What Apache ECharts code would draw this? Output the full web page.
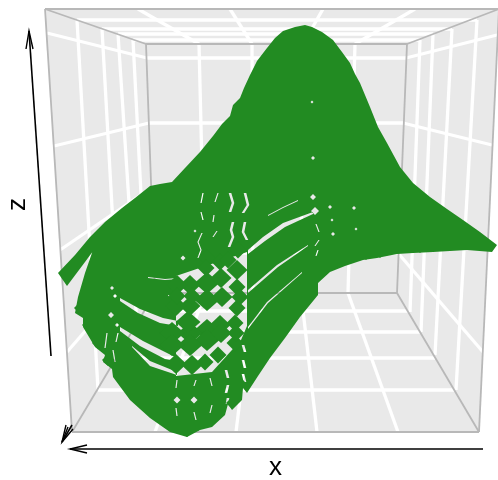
<!DOCTYPE html>
<html><head><meta charset="utf-8">
<style>html,body{margin:0;padding:0;background:#fff}#c{width:498px;height:480px}</style>
<script src="https://cdn.jsdelivr.net/npm/echarts@6/dist/echarts.min.js"></script>
</head><body><div id="c"></div>
<script>
const wallOutline = [[45,9],[499,9],[479,432],[72,432]];
const boxEdges = [
  [[45,9],[499,9]],[[45,9],[72,432]],[[499,9],[479,432]],[[72,432],[479,432]],
  [[45,9],[146,44]],[[499,9],[407,44]],[[72,432],[155,293]],[[479,432],[397,293]],
  [[146,44],[407,44]],[[146,44],[155,293]],[[407,44],[397,293]],[[155,293],[397,293]]
];
const backVerticals = [
  [[199,44],[205,293]],[[252,44],[253,293]],[[303,44],[301,293]],[[355,44],[348,293]]
];
const backHorizontals = [
  [[147,58],[406,58]],[[149,123],[403,123]],[[151,188],[400,188]],[[153,253],[398,253]]
];
const ceilingDepth = [
  [[138,9],[199,44]],[[230,9],[252,44]],[[323,9],[303,44]],[[415,9],[355,44]]
];
const ceilingCross = [
  [[77,20],[477,20]],[[102,29],[452,29]],[[118,34],[433,34]],[[133,40],[420,40]]
];
const floorDepth = [
  [[155,432],[205,293]],[[236,432],[253,293]],[[317,432],[301,293]],[[398,432],[348,293]]
];
const floorCross = [
  [[98,390],[454,390]],[[117,358],[435,358]],[[132,332],[420,332]],[[145,311],[408,311]]
];
const leftWallDepth = [
  [[47,33],[147,58]],[[54,146],[149,123]],[[60,250],[151,188]],[[67,352],[153,253]]
];
const rightWallDepth = [
  [[497,35],[406,58]],[[492,145],[403,123]],[[487,250],[400,188]],[[483,352],[398,253]]
];
const leftWallUp = [
  [[77,20],[98,390]],[[102,29],[120,350]],[[118,34],[137,325]],[[133,40],[147,310]]
];
const rightWallUp = [
  [[477,20],[456,390]],[[452,29],[435,355]],[[433,34],[421,332]],[[420,40],[410,312]]
];

const surfaceOutline = [
  [58,273],[75,255],[90,237],[105,222],[122,208],[135,198],[150,186],[160,184],[172,182],
  [185,168],[200,152],[213,136],[222,124],[230,116],[233,105],[240,98],[244,88],[250,75],[257,61],[267,48],
  [275,38],[283,31],[295,27],[305,25],[312,27],[322,32],[333,40],[342,52],[350,63],[355,74],
  [360,83],[370,107],[378,127],[387,143],[400,167],[413,183],[430,197],[447,209],[463,220],
  [480,232],[497,245],[492,252],[467,250],[433,252],[413,253],[397,254],[377,258],[363,260],
  [345,266],[330,272],[318,283],[318,295],[300,317],[285,338],[270,358],[258,376],[247,393],
  [243,388],[242,400],[232,410],[228,404],[225,415],[212,427],[200,430],[187,437],[170,432],
  [150,418],[130,400],[113,377],[112,369],[103,362],[105,355],[95,347],[83,327],[83,318],
  [75,313],[78,297],[85,273],[93,250],[99,243],[85,262],[67,286]
];
const crescentGaps = [
  [[120,298],[140,309],[163,318],[178,321],[178,326],[160,323],[138,313],[120,301]],
  [[120,327],[143,341],[173,356],[177,357],[177,361],[165,359],[140,346],[120,331]],
  [[132,346],[150,361],[177,372],[177,375],[150,366],[132,347]],
  [[248,250],[263,237],[283,223],[313,212],[313,214],[285,227],[265,241],[248,254]],
  [[248,290],[277,265],[308,245],[308,246],[278,267],[248,293]],
  [[248,327],[267,302],[302,272],[302,273],[268,303],[248,329]],
  [[268,215],[283,207],[298,200],[298,201],[283,208],[268,216]],
  [[148,277],[165,279],[178,278],[178,279],[165,280],[148,278]],
  [[168,295],[178,296],[178,297],[168,296]]
];
const meshGap = [[176,276],[247,252],[247,292],[247,326],[241,340],[212,372],[176,376]];
const fineGaps = [
  [[203,193],[201,203]],[[201,212],[203,220]],[[202,233],[198,242],[201,250],[198,258]],
  [[218,193],[215,202]],[[214,215],[213,222]],[[217,231],[213,237]],
  [[177,380],[176,388]],[[176,408],[177,416]],[[176,422],[177,430]],
  [[196,380],[194,386]],[[194,412],[196,420]],
  [[210,378],[212,386]],[[212,405],[210,413]],
  [[118,333],[116,342]],[[113,350],[115,362]],[[107,333],[105,348]],
  [[316,224],[319,232]],[[319,240],[315,246]],[[318,250],[316,256]]
];
const wideGaps = [
  [[230,193],[233,203],[230,212]],[[233,222],[231,230],[233,237],[229,247]],
  [[245,193],[248,205],[243,213]],[[245,222],[243,232],[247,240]],
  [[226,370],[228,378]],[[228,385],[226,393]],[[228,398],[227,404]],
  [[243,345],[245,352]],[[243,360],[245,368]],[[243,374],[245,382]]
];
const roundGaps = [
  [177,400,3.5],[194,400,3.5],[313,158,2],[313,197,3],[315,211,4],[330,207,2],[354,208,2],
  [332,220,1.5],[333,234,2],[356,229,1.5],[312,102,1.5],[112,288,2],[115,296,2],
  [111,315,3],[117,325,2],[183,258,2.5],[195,231,1.5]
];
const bigPoints = [
  [207,283],[207,300],[207,330],[190,333],[172,333],[207,340],[190,345],[172,345],[188,322]
];
const midPoints = [
  [221,278],[222,297],[220,325],[190,306],[176,306],[237,270],[221,333],[190,285],[177,285],[176,364],[192,365]
];
const smallPoints = [
  [237,287],[237,308],[235,323],[218,355],[235,343],[205,362],[220,262],[238,250],[207,258],
  [228,260],[206,268],[236,333],[240,297],[192,296],[177,296]
];
const rimPoints = [
  [486,245],[473,241],[460,243],[447,245],[433,245],[420,247],[407,247],[396,248],[380,252],
  [366,254],[187,431],[176,427],[198,425],[208,421],[232,403],[240,383],
  [108,360],[98,343],[88,325],[80,308]
];
const zArrow = [[51,356],[29,31]];
const zHead = [[26,49],[29,31],[33,49]];
const xArrow = [[483,449],[70,449]];
const xHead = [[87,445],[70,449],[87,453]];
const yArrow = [[72,425],[62,442]];
const yHeadA = [[66,425],[62,442],[73,429]];
const yHeadB = [[68,427],[62,442]];
const axisTitles = ['x','z'];

const line = (pts, color, width, z) => ({
  type:'line', data:pts, symbol:'none', silent:true, z, clip:false,
  lineStyle:{color, width, cap:'butt', join:'miter', opacity:1}
});
const signed = r => r.reduce((s,p,i)=>{const q=r[(i+1)%r.length];return s+p[0]*q[1]-q[0]*p[1];},0);
const orient = (r, sign) => (signed(r)*sign>0 ? r : r.slice().reverse());
const strip = (pts, w) => pts.map(p=>[p[0]-w,p[1]]).concat(pts.slice().reverse().map(p=>[p[0]+w,p[1]]));
const diamondRing = ([x,y,r]) => [[x,y-r],[x+r,y],[x,y+r],[x-r,y]];
const holes = crescentGaps.concat([meshGap], fineGaps.map(c=>strip(c,0.6)), wideGaps.map(c=>strip(c,1.3)), roundGaps.map(diamondRing));

const surfaceItem = (params, api) => {
  const toPath = r => 'M' + r.map(p=>api.coord(p).join(' ')).join('L') + 'Z';
  const d = toPath(orient(surfaceOutline,1)) + holes.map(h=>toPath(orient(h,-1))).join('');
  const px = surfaceOutline.map(p=>api.coord(p));
  const xs = px.map(p=>p[0]), ys = px.map(p=>p[1]);
  const x0=Math.min(...xs), y0=Math.min(...ys);
  return {type:'path', shape:{pathData:d, x:x0, y:y0, width:Math.max(...xs)-x0, height:Math.max(...ys)-y0, layout:'cover'},
    style:{fill:'#228b22'}};
};
const wallItem = (params, api) => ({
  type:'polygon', shape:{points:wallOutline.map(p=>api.coord(p))}, style:{fill:'#e9e9e9'}
});
const dots = (pts,size) => ({type:'scatter',data:pts,symbol:'diamond',symbolSize:size,z:6,silent:true,
  itemStyle:{color:'#228b22',opacity:1},clip:false});

const whiteLines = [].concat(backVerticals,backHorizontals,ceilingDepth,ceilingCross,floorDepth,floorCross,
  leftWallDepth,rightWallDepth,leftWallUp,rightWallUp);

const option = {
  animation:false,
  grid:{left:0,right:0,top:0,bottom:0},
  xAxis:{type:'value',min:0,max:498,show:false},
  yAxis:{type:'value',min:0,max:480,inverse:true,show:false},
  graphic:[
    {type:'text',left:269,top:455,z:20,style:{text:axisTitles[0],font:'26px "Liberation Sans"',fill:'#000'}},
    {type:'text',x:5,y:211,rotation:Math.PI/2,z:20,style:{text:axisTitles[1],font:'26px "Liberation Sans"',fill:'#000'}}
  ],
  series:[
    {type:'custom',data:[[0,0]],renderItem:wallItem,z:1,silent:true,clip:false},
    ...whiteLines.map(s=>line(s,'#fff',3.3,2)),
    ...boxEdges.map(s=>line(s,'#b8b8b8',1.8,3)),
    {type:'custom',data:[[0,0]],renderItem:surfaceItem,z:5,silent:true,clip:false},
    dots(bigPoints,[25,22]),dots(midPoints,[21,20]),dots(smallPoints,[17,17]),dots(rimPoints,[12,12]),
    line(zArrow,'#000',1.6,8),line(zHead,'#000',1.4,8),
    line(xArrow,'#000',1.6,8),line(xHead,'#000',1.4,8),
    line(yArrow,'#000',1.6,8),line(yHeadA,'#000',1.4,8),line(yHeadB,'#000',1.4,8)
  ]
};
echarts.init(document.getElementById('c'),null,{renderer:'canvas'}).setOption(option);
</script></body></html>
